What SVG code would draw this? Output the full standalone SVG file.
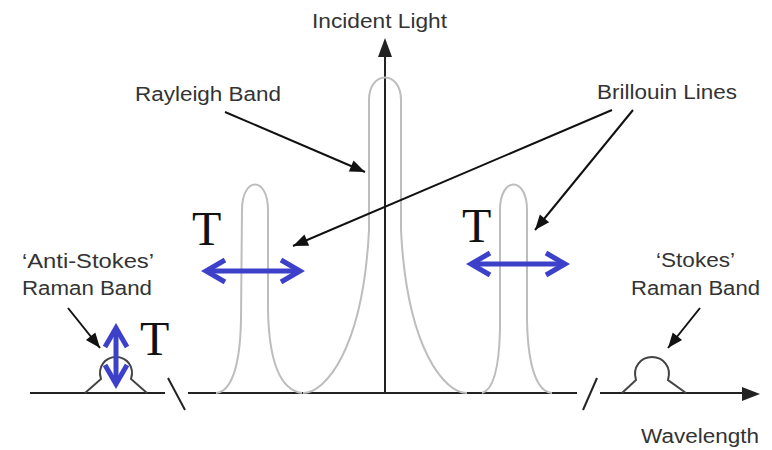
<svg xmlns="http://www.w3.org/2000/svg" width="772" height="450" viewBox="0 0 772 450">
  <style>
    .axis { stroke: #222; stroke-width: 2; fill: none; }
    .band { stroke: #bdbdbd; stroke-width: 2; fill: none; }
    .raman { stroke: #444; stroke-width: 2; fill: none; }
    .pointer { stroke: #111; stroke-width: 2; fill: none; marker-end: url(#ah); }
    .temp { stroke: #3d40c8; stroke-width: 5; fill: none; marker-start: url(#chev); marker-end: url(#chev); }
    .lbl { font-family: "Liberation Sans", Arial, sans-serif; font-size: 20px; fill: #333; }
    .t { font-family: "Liberation Serif", "Times New Roman", serif; font-size: 48px; fill: #111; }
  </style>
  <defs>
    <marker id="ah" markerUnits="userSpaceOnUse" viewBox="-16 -7 18 14" markerWidth="18" markerHeight="14" refX="0" refY="0" orient="auto">
      <path d="M0 0 L-15 -6 L-15 6 Z" fill="#111"/>
    </marker>
    <marker id="chev" markerUnits="userSpaceOnUse" viewBox="-26 -16 32 32" markerWidth="32" markerHeight="32" refX="0" refY="0" orient="auto-start-reverse">
      <path d="M-19 -11 L0 0 L-19 11" stroke="#3d40c8" stroke-width="5" fill="none"/>
    </marker>
  </defs>

  <g id="axis">
    <path class="axis" d="M30 393 L165 393"/>
    <path class="axis" d="M168 378 L185 410"/>
    <path class="axis" d="M188 393 L577 393"/>
    <path class="axis" d="M597 378 L583 410"/>
    <path class="axis" d="M600 393 L745 393"/>
    <path d="M760 394 L742 387 L742 401 Z" fill="#222"/>
    <path class="axis" d="M385 393 L385 55"/>
    <path d="M385 38 L378 57 L392 57 Z" fill="#222"/>
  </g>

  <g id="rayleigh-band">
    <path class="band" d="M303 393 C325 393, 363 350, 369 230 L369 100 C369 70, 401 70, 401 100 L401 230 C407 350, 445 393, 467 393"/>
  </g>

  <g id="brillouin-left">
    <path class="band" d="M216 393 C230 392, 240 370, 241 320 L242 210 C242 176, 268 176, 268 210 L268 310 C269 360, 280 390, 302 393"/>
  </g>

  <g id="brillouin-right">
    <path class="band" d="M552 393 C538 392, 528 370, 527 320 L527 210 C527 176, 500 176, 500 210 L500 330 C499 370, 493 390, 482 393"/>
  </g>

  <g id="raman-anti-stokes">
    <path class="raman" d="M85 393 L101 379 C97 366, 106 357, 116 357 C126 357, 135 366, 131 379 L147 393"/>
  </g>

  <g id="raman-stokes">
    <path class="raman" d="M622 393 L636 380 C632 367, 641 357, 652 357 C663 357, 672 367, 668 380 L686 393"/>
  </g>

  <g id="connectors">
    <path class="pointer" d="M225 112 L365 172"/>
    <path class="pointer" d="M612 110 L293 246"/>
    <path class="pointer" d="M633 110 L535 230"/>
    <path class="pointer" d="M68 308 L100 348"/>
    <path class="pointer" d="M700 308 L668 348"/>
    <path class="temp" d="M206 271 L300 271"/>
    <path class="temp" d="M471 264 L565 264"/>
    <path class="temp" d="M116 328 L116 384"/>
  </g>

  <g id="labels">
    <text class="lbl" x="312" y="28" textLength="135" lengthAdjust="spacingAndGlyphs">Incident Light</text>
    <text class="lbl" x="135" y="101" textLength="146" lengthAdjust="spacingAndGlyphs">Rayleigh Band</text>
    <text class="lbl" x="597" y="99" textLength="140" lengthAdjust="spacingAndGlyphs">Brillouin Lines</text>
    <text class="lbl" x="22" y="268" textLength="132" lengthAdjust="spacingAndGlyphs">‘Anti-Stokes’</text>
    <text class="lbl" x="22" y="295" textLength="130" lengthAdjust="spacingAndGlyphs">Raman Band</text>
    <text class="lbl" x="656" y="267" textLength="79" lengthAdjust="spacingAndGlyphs">‘Stokes’</text>
    <text class="lbl" x="631" y="295" textLength="129" lengthAdjust="spacingAndGlyphs">Raman Band</text>
    <text class="lbl" x="641" y="443" textLength="118" lengthAdjust="spacingAndGlyphs">Wavelength</text>
    <text class="t" x="140" y="355">T</text>
    <text class="t" x="192" y="245">T</text>
    <text class="t" x="462" y="242">T</text>
  </g>
</svg>
